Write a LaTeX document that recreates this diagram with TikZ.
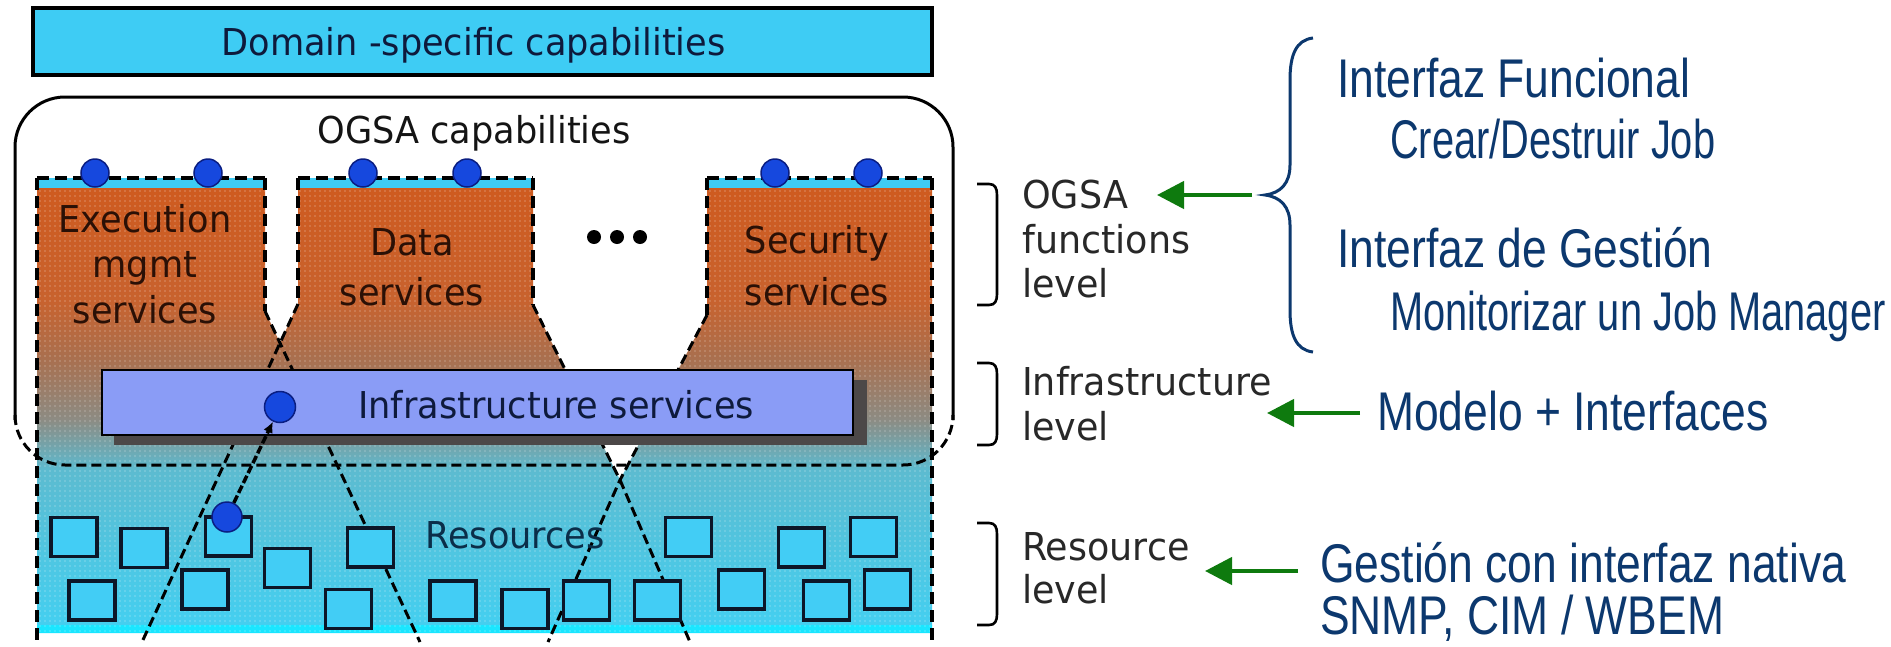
\documentclass[tikz,border=0pt]{standalone}
\usepackage{fontspec}
\usetikzlibrary{arrows.meta,patterns.meta}
\newfontfamily\diafont[FakeStretch=0.95]{DejaVu Sans}
\newfontfamily\notefont[FakeStretch=0.815]{Liberation Sans}
\newfontfamily\subfont[FakeStretch=0.73]{Liberation Sans}

\definecolor{navytext}{RGB}{12,56,110}
\definecolor{levgray}{RGB}{40,40,40}
\definecolor{domcyan}{RGB}{62,204,244}
\definecolor{rescyan}{RGB}{66,205,245}
\definecolor{resedge}{RGB}{12,22,40}
\definecolor{infrablue}{RGB}{138,156,246}
\definecolor{shadowgray}{RGB}{76,72,72}
\definecolor{dotblue}{RGB}{22,72,222}
\definecolor{dotedge}{RGB}{10,30,130}
\definecolor{arrowgreen}{RGB}{14,122,14}
\definecolor{svctext}{RGB}{42,16,6}
\definecolor{darknavy}{RGB}{14,26,60}
\definecolor{ogA}{RGB}{207,90,30}
\definecolor{ogB}{RGB}{200,98,46}
\definecolor{ogC}{RGB}{168,112,80}
\definecolor{ogD}{RGB}{140,140,132}
\definecolor{ogE}{RGB}{92,187,208}
\definecolor{ogF}{RGB}{68,207,240}
\definecolor{ogG}{RGB}{26,230,255}

\begin{document}
\begin{tikzpicture}[x=1pt,y=-1pt,
  diatext/.style={font=\diafont\fontsize{37}{44}\selectfont, inner sep=0, anchor=base},
  levtext/.style={font=\diafont\fontsize{38.4}{46}\selectfont, text=levgray, inner sep=0, anchor=base west},
  bigtext/.style={font=\notefont\fontsize{54.5}{60}\selectfont, text=navytext, inner sep=0, anchor=base west},
  subtext/.style={font=\subfont\fontsize{54.5}{60}\selectfont, text=navytext, inner sep=0, anchor=base west},
  resbox/.style={draw=resedge, line width=3.5, fill=rescyan, minimum width=46, minimum height=39, inner sep=0},
  bluedot/.style={circle, fill=dotblue, draw=dotedge, line width=1.5, minimum size=28, inner sep=0},
  coledge/.style={dash pattern=on 12pt off 6pt, line width=3.8},
  crossline/.style={dash pattern=on 10pt off 5pt, line width=3},
  garrow/.style={draw=arrowgreen, line width=4.5, -{Triangle[length=27pt,width=27pt]}},
  lvlbracket/.style={line width=2.6},
]
\useasboundingbox (0,0) rectangle (1891,646);
\fill[white] (0,0) rectangle (1891,646);

% ---- service columns and the shared lower area, fading orange -> cyan
\begin{scope}
  \clip (37,178) -- (265,178) -- (265,311) -- (280,343) -- (298,304) -- (298,178)
        -- (533,178) -- (533,305) -- (620,480) -- (707,315) -- (707,178)
        -- (932,178) -- (932,633) -- (37,633) -- cycle;
  \shade[top color=ogA, bottom color=ogB] (30,177) rectangle (940,300.5);
  \shade[top color=ogB, bottom color=ogC] (30,300) rectangle (940,360.5);
  \shade[top color=ogC, bottom color=ogD] (30,360) rectangle (940,420.5);
  \shade[top color=ogD, bottom color=ogE] (30,420) rectangle (940,470.5);
  \shade[top color=ogE, bottom color=ogF] (30,470) rectangle (940,625.5);
  \fill[ogG] (30,625) rectangle (940,634);
  \fill[pattern={Dots[distance=5pt,radius=0.8pt]}, pattern color=white, fill opacity=0.3]
        (30,177) rectangle (940,634);
  % light strip under the interface line of each service
  \fill[domcyan] (37,178) rectangle (265,188);
  \fill[domcyan] (298,178) rectangle (533,188);
  \fill[domcyan] (707,178) rectangle (932,188);
\end{scope}

% ---- column outlines and the lines fanning out to the resources
\draw[coledge] (37,178) -- (265,178);
\draw[coledge] (298,178) -- (533,178);
\draw[coledge] (707,178) -- (932,178);
\draw[coledge] (37,178) -- (37,642);
\draw[coledge] (932,178) -- (932,642);
\draw[coledge] (265,178) -- (265,311);
\draw[coledge] (298,178) -- (298,304);
\draw[coledge] (533,178) -- (533,305);
\draw[coledge] (707,178) -- (707,315);
\draw[crossline] (265,311) -- (420,642);
\draw[crossline] (298,304) -- (142,642);
\draw[crossline] (533,305) -- (620,480) -- (690,642);
\draw[crossline] (707,315) -- (620,480) -- (548,642);

% ---- OGSA capabilities frame
\draw[line width=3, rounded corners=50] (15,420) -- (15,97) -- (953,97) -- (953,420);
\draw[line width=3, dash pattern=on 10pt off 5pt, rounded corners=50] (15,415) -- (15,465) -- (953,465) -- (953,415);
\node[diatext, text=black!92] (ogsacap) at (474,143) {OGSA capabilities};

% ---- domain specific capabilities
\node[draw=black, line width=3.5, fill=domcyan, minimum width=899, minimum height=67, inner sep=0] (dombox) at (482.5,41.5) {};
\node[diatext, text=darknavy] (domtext) at (473.5,55) {Domain -specific capabilities};

% ---- service names
\node[diatext, text=svctext] (exec1) at (145,232) {Execution};
\node[diatext, text=svctext] (exec2) at (145,277) {mgmt};
\node[diatext, text=svctext] (exec3) at (145,323) {services};
\node[diatext, text=svctext] (data1) at (412,255) {Data};
\node[diatext, text=svctext] (data2) at (412,305) {services};
\node[diatext, text=svctext] (sec1) at (817,253) {Security};
\node[diatext, text=svctext] (sec2) at (817,305) {services};
\foreach \dx/\nm in {594/ell1,617/ell2,640/ell3}
  \node[circle, fill=black, minimum size=14, inner sep=0] (\nm) at (\dx,237) {};

% ---- service interface points
\foreach \px/\nm in {95/ex1,208/ex2,363/da1,467/da2,775/se1,868/se2}
  \node[bluedot] (\nm) at (\px,173) {};

% ---- resources
\foreach \cx/\cy/\nm in {74/537/r1,144/548/r2,228.5/536.5/r3,287.5/568/r4,370.5/547.5/r5,
    688.5/537/r6,801.5/547.5/r7,873.5/537/r8,92/600.5/r9,205/589.5/r10,348.5/609/r11,
    453/600.5/r12,525/609/r13,586.5/600.5/r14,657.5/600.5/r15,741.5/589.5/r16,
    826.5/600.5/r17,887.5/589.5/r18}
  \node[resbox] (\nm) at (\cx,\cy) {};
\node[diatext, text=darknavy!80!teal] (restext) at (515,548) {Resources};

% ---- infrastructure services
\fill[shadowgray] (114,380) rectangle (867,445);
\node[draw=black, line width=2.5, fill=infrablue, minimum width=751, minimum height=65, inner sep=0] (infra) at (477.5,402.5) {};
\node[diatext, text=darknavy] (infratext) at (556,418) {Infrastructure services};
\node[bluedot, minimum size=31] (infradot) at (280,407) {};
\node[bluedot, minimum size=30] (resdot) at (227,517) {};
\draw[line width=3.5, dash pattern=on 8pt off 3pt, -{Latex[length=11pt,width=10pt]}] (resdot) -- (infradot);

% ---- level brackets and labels
\draw[lvlbracket] (977,184) -- (989,184) .. controls (995,184) and (997,188) .. (997,195) -- (997,294) .. controls (997,301) and (995,305) .. (989,305) -- (977,305);
\draw[lvlbracket] (977,363) -- (989,363) .. controls (995,363) and (997,367) .. (997,374) -- (997,434) .. controls (997,441) and (995,445) .. (989,445) -- (977,445);
\draw[lvlbracket] (977,523) -- (989,523) .. controls (995,523) and (997,527) .. (997,534) -- (997,614) .. controls (997,621) and (995,625) .. (989,625) -- (977,625);
\node[levtext] (lv1a) at (1022,208) {OGSA};
\node[levtext] (lv1b) at (1022,253) {functions};
\node[levtext] (lv1c) at (1022,297) {level};
\node[levtext] (lv2a) at (1022,395) {Infrastructure};
\node[levtext] (lv2b) at (1022,440) {level};
\node[levtext] (lv3a) at (1022,560) {Resource};
\node[levtext] (lv3b) at (1022,603) {level};

% ---- notes on the right
\draw[navytext, line width=3] (1313,38) .. controls (1296,40) and (1290,55) .. (1290,80)
  -- (1290,165) .. controls (1290,183) and (1281,193) .. (1265,195)
  .. controls (1281,197) and (1290,207) .. (1290,225)
  -- (1290,310) .. controls (1290,335) and (1296,350) .. (1313,352);
\coordinate (a1s) at (1252,195);
\coordinate (a1e) at (1157,195);
\coordinate (a2s) at (1360,413);
\coordinate (a2e) at (1267,413);
\coordinate (a3s) at (1298,571);
\coordinate (a3e) at (1205,571);
\draw[garrow] (a1s) -- (a1e);
\draw[garrow] (a2s) -- (a2e);
\draw[garrow] (a3s) -- (a3e);

\node[bigtext] (ifun) at (1337,97) {Interfaz Funcional};
\node[subtext] (crear) at (1390,158) {Crear/Destruir Job};
\node[bigtext] (iges) at (1337,267) {Interfaz de Gestión};
\node[subtext] (monit) at (1390,330) {Monitorizar un Job Manager};
\node[bigtext] (model) at (1377,430.5) {Modelo + Interfaces};
\node[bigtext] (gest) at (1320,582) {Gestión con interfaz nativa};
\node[bigtext] (snmp) at (1320,634) {SNMP, CIM / WBEM};
\end{tikzpicture}
\end{document}
